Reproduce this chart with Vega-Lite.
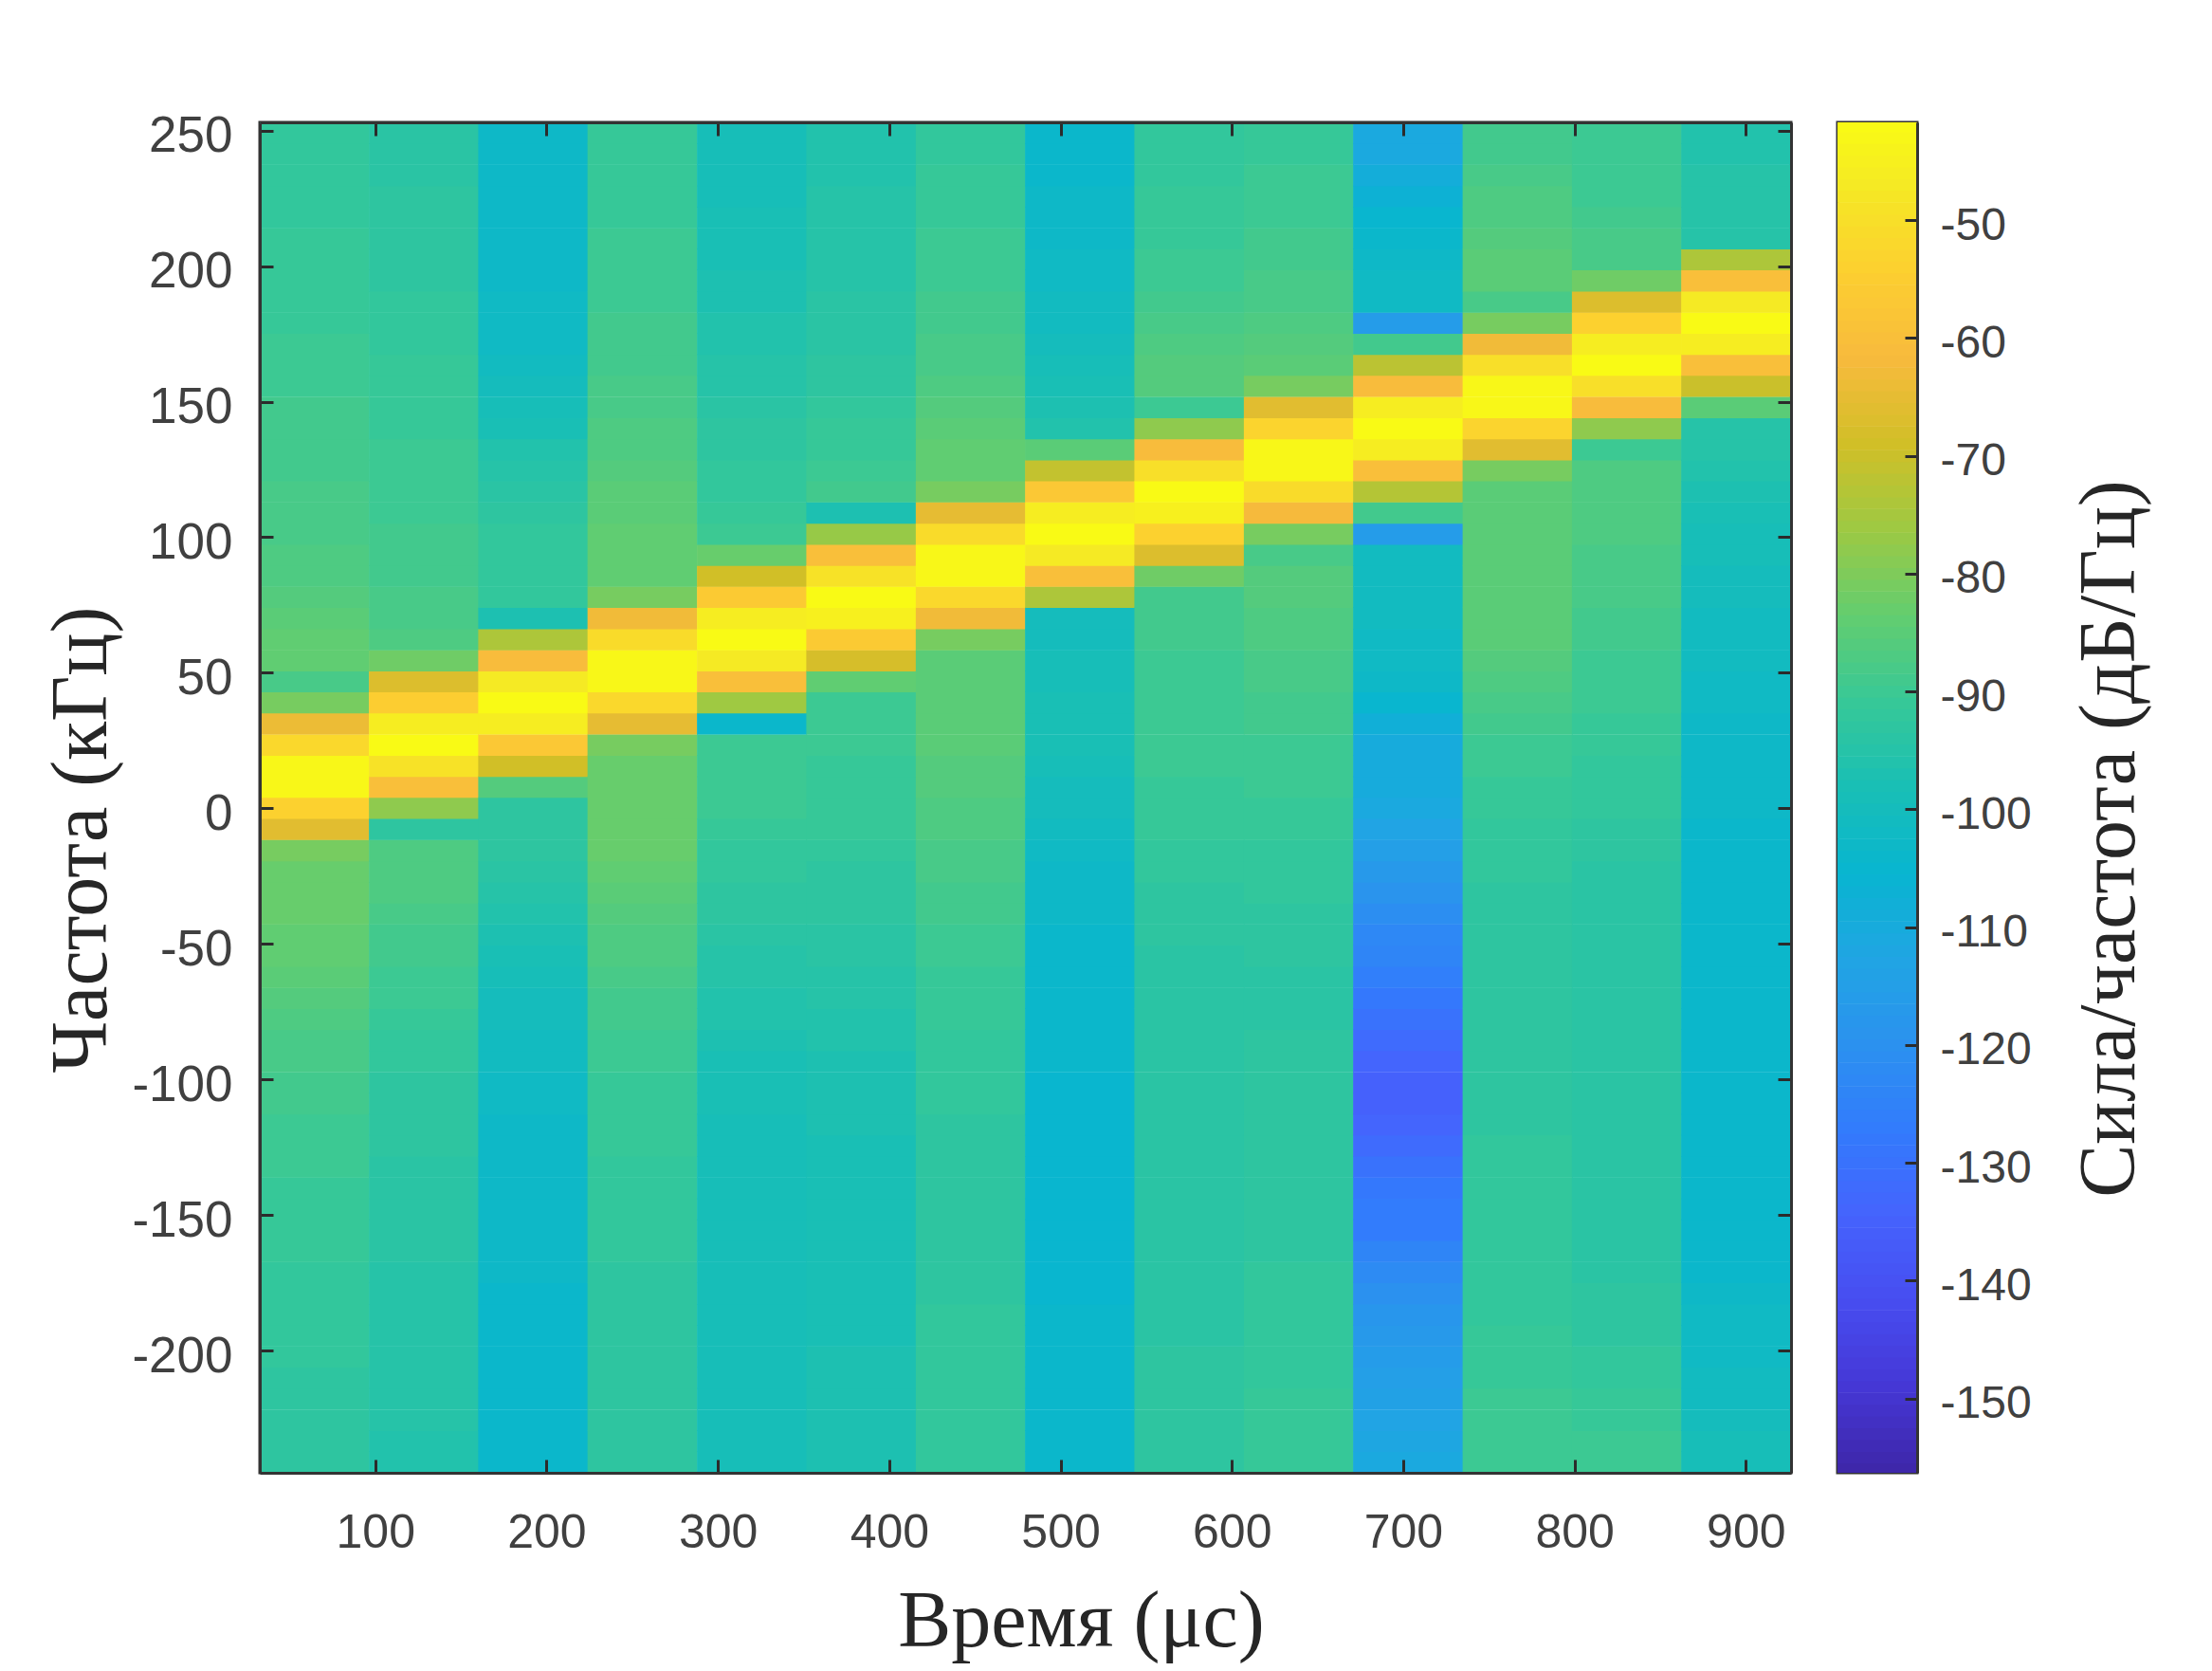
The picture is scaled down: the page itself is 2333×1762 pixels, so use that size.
{"$schema":"https://vega.github.io/schema/vega-lite/v6.json","background":"white","padding":{"left":42,"top":116,"right":5,"bottom":5},"config":{"view":{"stroke":"#333333","strokeWidth":3},"axis":{"labelFont":"Liberation Sans","labelColor":"#404040","titleFont":"Liberation Serif","titleColor":"#262626","titleFontWeight":"normal","titleFontSize":84,"tickColor":"#2b2b2b","tickWidth":3,"domainColor":"#333333","domainWidth":3,"grid":false,"labelExpr":"replace(datum.label,'−','-')"}},"spacing":44,"hconcat":[{"width":1615,"height":1424,"data":{"values":[
{"t":64.5,"f":-241.1,"v":-93},{"t":64.5,"f":-233.3,"v":-93},{"t":64.5,"f":-225.6,"v":-93},{"t":64.5,"f":-217.8,"v":-93},{"t":64.5,"f":-210,"v":-93},{"t":64.5,"f":-202.2,"v":-92},{"t":64.5,"f":-194.4,"v":-92},{"t":64.5,"f":-186.7,"v":-92},{"t":64.5,"f":-178.9,"v":-92},{"t":64.5,"f":-171.1,"v":-92},{"t":64.5,"f":-163.3,"v":-91},{"t":64.5,"f":-155.5,"v":-91},{"t":64.5,"f":-147.8,"v":-91},{"t":64.5,"f":-140,"v":-91},{"t":64.5,"f":-132.2,"v":-90},{"t":64.5,"f":-124.4,"v":-90},{"t":64.5,"f":-116.6,"v":-90},{"t":64.5,"f":-108.9,"v":-89},{"t":64.5,"f":-101.1,"v":-89},{"t":64.5,"f":-93.3,"v":-88},{"t":64.5,"f":-85.5,"v":-88},{"t":64.5,"f":-77.7,"v":-87},{"t":64.5,"f":-70,"v":-86},{"t":64.5,"f":-62.2,"v":-85},{"t":64.5,"f":-54.4,"v":-84},{"t":64.5,"f":-46.6,"v":-84},{"t":64.5,"f":-38.8,"v":-83},{"t":64.5,"f":-31.1,"v":-83},{"t":64.5,"f":-23.3,"v":-83},{"t":64.5,"f":-15.5,"v":-81},{"t":64.5,"f":-7.7,"v":-66},{"t":64.5,"f":0.1,"v":-54},{"t":64.5,"f":7.9,"v":-43},{"t":64.5,"f":15.6,"v":-43},{"t":64.5,"f":23.4,"v":-52},{"t":64.5,"f":31.2,"v":-64},{"t":64.5,"f":39,"v":-81},{"t":64.5,"f":46.8,"v":-88},{"t":64.5,"f":54.5,"v":-84},{"t":64.5,"f":62.3,"v":-84},{"t":64.5,"f":70.1,"v":-85},{"t":64.5,"f":77.9,"v":-86},{"t":64.5,"f":85.7,"v":-87},{"t":64.5,"f":93.4,"v":-87},{"t":64.5,"f":101.2,"v":-88},{"t":64.5,"f":109,"v":-88},{"t":64.5,"f":116.8,"v":-88},{"t":64.5,"f":124.6,"v":-89},{"t":64.5,"f":132.3,"v":-89},{"t":64.5,"f":140.1,"v":-89},{"t":64.5,"f":147.9,"v":-89},{"t":64.5,"f":155.7,"v":-90},{"t":64.5,"f":163.5,"v":-90},{"t":64.5,"f":171.2,"v":-90},{"t":64.5,"f":179,"v":-91},{"t":64.5,"f":186.8,"v":-91},{"t":64.5,"f":194.6,"v":-91},{"t":64.5,"f":202.4,"v":-91},{"t":64.5,"f":210.1,"v":-91},{"t":64.5,"f":217.9,"v":-92},{"t":64.5,"f":225.7,"v":-92},{"t":64.5,"f":233.5,"v":-92},{"t":64.5,"f":241.3,"v":-92},{"t":64.5,"f":249,"v":-92},
{"t":128.4,"f":-241.1,"v":-96},{"t":128.4,"f":-233.3,"v":-96},{"t":128.4,"f":-225.6,"v":-95},{"t":128.4,"f":-217.8,"v":-95},{"t":128.4,"f":-210,"v":-95},{"t":128.4,"f":-202.2,"v":-95},{"t":128.4,"f":-194.4,"v":-95},{"t":128.4,"f":-186.7,"v":-95},{"t":128.4,"f":-178.9,"v":-95},{"t":128.4,"f":-171.1,"v":-95},{"t":128.4,"f":-163.3,"v":-94},{"t":128.4,"f":-155.5,"v":-94},{"t":128.4,"f":-147.8,"v":-94},{"t":128.4,"f":-140,"v":-94},{"t":128.4,"f":-132.2,"v":-94},{"t":128.4,"f":-124.4,"v":-93},{"t":128.4,"f":-116.6,"v":-93},{"t":128.4,"f":-108.9,"v":-93},{"t":128.4,"f":-101.1,"v":-93},{"t":128.4,"f":-93.3,"v":-92},{"t":128.4,"f":-85.5,"v":-92},{"t":128.4,"f":-77.7,"v":-91},{"t":128.4,"f":-70,"v":-90},{"t":128.4,"f":-62.2,"v":-90},{"t":128.4,"f":-54.4,"v":-89},{"t":128.4,"f":-46.6,"v":-89},{"t":128.4,"f":-38.8,"v":-88},{"t":128.4,"f":-31.1,"v":-87},{"t":128.4,"f":-23.3,"v":-87},{"t":128.4,"f":-15.5,"v":-87},{"t":128.4,"f":-7.7,"v":-93},{"t":128.4,"f":0.1,"v":-78},{"t":128.4,"f":7.9,"v":-60},{"t":128.4,"f":15.6,"v":-49},{"t":128.4,"f":23.4,"v":-42},{"t":128.4,"f":31.2,"v":-46},{"t":128.4,"f":39,"v":-55},{"t":128.4,"f":46.8,"v":-67},{"t":128.4,"f":54.5,"v":-82},{"t":128.4,"f":62.3,"v":-87},{"t":128.4,"f":70.1,"v":-88},{"t":128.4,"f":77.9,"v":-88},{"t":128.4,"f":85.7,"v":-89},{"t":128.4,"f":93.4,"v":-89},{"t":128.4,"f":101.2,"v":-89},{"t":128.4,"f":109,"v":-90},{"t":128.4,"f":116.8,"v":-90},{"t":128.4,"f":124.6,"v":-90},{"t":128.4,"f":132.3,"v":-90},{"t":128.4,"f":140.1,"v":-91},{"t":128.4,"f":147.9,"v":-91},{"t":128.4,"f":155.7,"v":-91},{"t":128.4,"f":163.5,"v":-91},{"t":128.4,"f":171.2,"v":-92},{"t":128.4,"f":179,"v":-92},{"t":128.4,"f":186.8,"v":-92},{"t":128.4,"f":194.6,"v":-93},{"t":128.4,"f":202.4,"v":-93},{"t":128.4,"f":210.1,"v":-93},{"t":128.4,"f":217.9,"v":-93},{"t":128.4,"f":225.7,"v":-93},{"t":128.4,"f":233.5,"v":-94},{"t":128.4,"f":241.3,"v":-94},{"t":128.4,"f":249,"v":-94},
{"t":192.2,"f":-241.1,"v":-104},{"t":192.2,"f":-233.3,"v":-104},{"t":192.2,"f":-225.6,"v":-104},{"t":192.2,"f":-217.8,"v":-104},{"t":192.2,"f":-210,"v":-104},{"t":192.2,"f":-202.2,"v":-104},{"t":192.2,"f":-194.4,"v":-104},{"t":192.2,"f":-186.7,"v":-104},{"t":192.2,"f":-178.9,"v":-104},{"t":192.2,"f":-171.1,"v":-103},{"t":192.2,"f":-163.3,"v":-103},{"t":192.2,"f":-155.5,"v":-103},{"t":192.2,"f":-147.8,"v":-103},{"t":192.2,"f":-140,"v":-103},{"t":192.2,"f":-132.2,"v":-103},{"t":192.2,"f":-124.4,"v":-103},{"t":192.2,"f":-116.6,"v":-103},{"t":192.2,"f":-108.9,"v":-102},{"t":192.2,"f":-101.1,"v":-102},{"t":192.2,"f":-93.3,"v":-101},{"t":192.2,"f":-85.5,"v":-101},{"t":192.2,"f":-77.7,"v":-100},{"t":192.2,"f":-70,"v":-100},{"t":192.2,"f":-62.2,"v":-99},{"t":192.2,"f":-54.4,"v":-98},{"t":192.2,"f":-46.6,"v":-97},{"t":192.2,"f":-38.8,"v":-96},{"t":192.2,"f":-31.1,"v":-95},{"t":192.2,"f":-23.3,"v":-94},{"t":192.2,"f":-15.5,"v":-93},{"t":192.2,"f":-7.7,"v":-93},{"t":192.2,"f":0.1,"v":-93},{"t":192.2,"f":7.9,"v":-86},{"t":192.2,"f":15.6,"v":-69},{"t":192.2,"f":23.4,"v":-57},{"t":192.2,"f":31.2,"v":-46},{"t":192.2,"f":39,"v":-42},{"t":192.2,"f":46.8,"v":-47},{"t":192.2,"f":54.5,"v":-61},{"t":192.2,"f":62.3,"v":-74},{"t":192.2,"f":70.1,"v":-97},{"t":192.2,"f":77.9,"v":-92},{"t":192.2,"f":85.7,"v":-92},{"t":192.2,"f":93.4,"v":-92},{"t":192.2,"f":101.2,"v":-92},{"t":192.2,"f":109,"v":-93},{"t":192.2,"f":116.8,"v":-94},{"t":192.2,"f":124.6,"v":-95},{"t":192.2,"f":132.3,"v":-96},{"t":192.2,"f":140.1,"v":-98},{"t":192.2,"f":147.9,"v":-99},{"t":192.2,"f":155.7,"v":-100},{"t":192.2,"f":163.5,"v":-101},{"t":192.2,"f":171.2,"v":-102},{"t":192.2,"f":179,"v":-102},{"t":192.2,"f":186.8,"v":-102},{"t":192.2,"f":194.6,"v":-103},{"t":192.2,"f":202.4,"v":-103},{"t":192.2,"f":210.1,"v":-103},{"t":192.2,"f":217.9,"v":-103},{"t":192.2,"f":225.7,"v":-103},{"t":192.2,"f":233.5,"v":-103},{"t":192.2,"f":241.3,"v":-103},{"t":192.2,"f":249,"v":-103},
{"t":256,"f":-241.1,"v":-93},{"t":256,"f":-233.3,"v":-93},{"t":256,"f":-225.6,"v":-93},{"t":256,"f":-217.8,"v":-93},{"t":256,"f":-210,"v":-93},{"t":256,"f":-202.2,"v":-93},{"t":256,"f":-194.4,"v":-93},{"t":256,"f":-186.7,"v":-93},{"t":256,"f":-178.9,"v":-93},{"t":256,"f":-171.1,"v":-93},{"t":256,"f":-163.3,"v":-92},{"t":256,"f":-155.5,"v":-92},{"t":256,"f":-147.8,"v":-92},{"t":256,"f":-140,"v":-92},{"t":256,"f":-132.2,"v":-92},{"t":256,"f":-124.4,"v":-91},{"t":256,"f":-116.6,"v":-91},{"t":256,"f":-108.9,"v":-91},{"t":256,"f":-101.1,"v":-91},{"t":256,"f":-93.3,"v":-90},{"t":256,"f":-85.5,"v":-90},{"t":256,"f":-77.7,"v":-89},{"t":256,"f":-70,"v":-89},{"t":256,"f":-62.2,"v":-88},{"t":256,"f":-54.4,"v":-87},{"t":256,"f":-46.6,"v":-87},{"t":256,"f":-38.8,"v":-86},{"t":256,"f":-31.1,"v":-85},{"t":256,"f":-23.3,"v":-84},{"t":256,"f":-15.5,"v":-83},{"t":256,"f":-7.7,"v":-83},{"t":256,"f":0.1,"v":-83},{"t":256,"f":7.9,"v":-83},{"t":256,"f":15.6,"v":-83},{"t":256,"f":23.4,"v":-81},{"t":256,"f":31.2,"v":-65},{"t":256,"f":39,"v":-52},{"t":256,"f":46.8,"v":-43},{"t":256,"f":54.5,"v":-43},{"t":256,"f":62.3,"v":-51},{"t":256,"f":70.1,"v":-63},{"t":256,"f":77.9,"v":-81},{"t":256,"f":85.7,"v":-84},{"t":256,"f":93.4,"v":-84},{"t":256,"f":101.2,"v":-84},{"t":256,"f":109,"v":-85},{"t":256,"f":116.8,"v":-85},{"t":256,"f":124.6,"v":-86},{"t":256,"f":132.3,"v":-87},{"t":256,"f":140.1,"v":-87},{"t":256,"f":147.9,"v":-88},{"t":256,"f":155.7,"v":-88},{"t":256,"f":163.5,"v":-89},{"t":256,"f":171.2,"v":-89},{"t":256,"f":179,"v":-89},{"t":256,"f":186.8,"v":-90},{"t":256,"f":194.6,"v":-90},{"t":256,"f":202.4,"v":-90},{"t":256,"f":210.1,"v":-90},{"t":256,"f":217.9,"v":-91},{"t":256,"f":225.7,"v":-91},{"t":256,"f":233.5,"v":-91},{"t":256,"f":241.3,"v":-91},{"t":256,"f":249,"v":-91},
{"t":319.9,"f":-241.1,"v":-99},{"t":319.9,"f":-233.3,"v":-99},{"t":319.9,"f":-225.6,"v":-99},{"t":319.9,"f":-217.8,"v":-99},{"t":319.9,"f":-210,"v":-99},{"t":319.9,"f":-202.2,"v":-99},{"t":319.9,"f":-194.4,"v":-99},{"t":319.9,"f":-186.7,"v":-99},{"t":319.9,"f":-178.9,"v":-99},{"t":319.9,"f":-171.1,"v":-99},{"t":319.9,"f":-163.3,"v":-99},{"t":319.9,"f":-155.5,"v":-99},{"t":319.9,"f":-147.8,"v":-99},{"t":319.9,"f":-140,"v":-99},{"t":319.9,"f":-132.2,"v":-99},{"t":319.9,"f":-124.4,"v":-99},{"t":319.9,"f":-116.6,"v":-99},{"t":319.9,"f":-108.9,"v":-98},{"t":319.9,"f":-101.1,"v":-98},{"t":319.9,"f":-93.3,"v":-98},{"t":319.9,"f":-85.5,"v":-97},{"t":319.9,"f":-77.7,"v":-96},{"t":319.9,"f":-70,"v":-96},{"t":319.9,"f":-62.2,"v":-95},{"t":319.9,"f":-54.4,"v":-95},{"t":319.9,"f":-46.6,"v":-94},{"t":319.9,"f":-38.8,"v":-93},{"t":319.9,"f":-31.1,"v":-93},{"t":319.9,"f":-23.3,"v":-92},{"t":319.9,"f":-15.5,"v":-92},{"t":319.9,"f":-7.7,"v":-91},{"t":319.9,"f":0.1,"v":-90},{"t":319.9,"f":7.9,"v":-90},{"t":319.9,"f":15.6,"v":-90},{"t":319.9,"f":23.4,"v":-90},{"t":319.9,"f":31.2,"v":-104},{"t":319.9,"f":39,"v":-76},{"t":319.9,"f":46.8,"v":-60},{"t":319.9,"f":54.5,"v":-47},{"t":319.9,"f":62.3,"v":-42},{"t":319.9,"f":70.1,"v":-46},{"t":319.9,"f":77.9,"v":-56},{"t":319.9,"f":85.7,"v":-69},{"t":319.9,"f":93.4,"v":-83},{"t":319.9,"f":101.2,"v":-90},{"t":319.9,"f":109,"v":-91},{"t":319.9,"f":116.8,"v":-92},{"t":319.9,"f":124.6,"v":-92},{"t":319.9,"f":132.3,"v":-93},{"t":319.9,"f":140.1,"v":-93},{"t":319.9,"f":147.9,"v":-94},{"t":319.9,"f":155.7,"v":-95},{"t":319.9,"f":163.5,"v":-95},{"t":319.9,"f":171.2,"v":-96},{"t":319.9,"f":179,"v":-96},{"t":319.9,"f":186.8,"v":-97},{"t":319.9,"f":194.6,"v":-97},{"t":319.9,"f":202.4,"v":-98},{"t":319.9,"f":210.1,"v":-98},{"t":319.9,"f":217.9,"v":-98},{"t":319.9,"f":225.7,"v":-99},{"t":319.9,"f":233.5,"v":-99},{"t":319.9,"f":241.3,"v":-99},{"t":319.9,"f":249,"v":-99},
{"t":383.7,"f":-241.1,"v":-97},{"t":383.7,"f":-233.3,"v":-97},{"t":383.7,"f":-225.6,"v":-97},{"t":383.7,"f":-217.8,"v":-97},{"t":383.7,"f":-210,"v":-97},{"t":383.7,"f":-202.2,"v":-97},{"t":383.7,"f":-194.4,"v":-98},{"t":383.7,"f":-186.7,"v":-98},{"t":383.7,"f":-178.9,"v":-98},{"t":383.7,"f":-171.1,"v":-98},{"t":383.7,"f":-163.3,"v":-98},{"t":383.7,"f":-155.5,"v":-98},{"t":383.7,"f":-147.8,"v":-98},{"t":383.7,"f":-140,"v":-98},{"t":383.7,"f":-132.2,"v":-98},{"t":383.7,"f":-124.4,"v":-98},{"t":383.7,"f":-116.6,"v":-97},{"t":383.7,"f":-108.9,"v":-97},{"t":383.7,"f":-101.1,"v":-97},{"t":383.7,"f":-93.3,"v":-97},{"t":383.7,"f":-85.5,"v":-96},{"t":383.7,"f":-77.7,"v":-96},{"t":383.7,"f":-70,"v":-95},{"t":383.7,"f":-62.2,"v":-95},{"t":383.7,"f":-54.4,"v":-94},{"t":383.7,"f":-46.6,"v":-94},{"t":383.7,"f":-38.8,"v":-93},{"t":383.7,"f":-31.1,"v":-93},{"t":383.7,"f":-23.3,"v":-93},{"t":383.7,"f":-15.5,"v":-92},{"t":383.7,"f":-7.7,"v":-91},{"t":383.7,"f":0.1,"v":-91},{"t":383.7,"f":7.9,"v":-91},{"t":383.7,"f":15.6,"v":-91},{"t":383.7,"f":23.4,"v":-90},{"t":383.7,"f":31.2,"v":-90},{"t":383.7,"f":39,"v":-90},{"t":383.7,"f":46.8,"v":-84},{"t":383.7,"f":54.5,"v":-68},{"t":383.7,"f":62.3,"v":-56},{"t":383.7,"f":70.1,"v":-45},{"t":383.7,"f":77.9,"v":-42},{"t":383.7,"f":85.7,"v":-49},{"t":383.7,"f":93.4,"v":-60},{"t":383.7,"f":101.2,"v":-77},{"t":383.7,"f":109,"v":-97},{"t":383.7,"f":116.8,"v":-89},{"t":383.7,"f":124.6,"v":-90},{"t":383.7,"f":132.3,"v":-91},{"t":383.7,"f":140.1,"v":-91},{"t":383.7,"f":147.9,"v":-92},{"t":383.7,"f":155.7,"v":-93},{"t":383.7,"f":163.5,"v":-93},{"t":383.7,"f":171.2,"v":-94},{"t":383.7,"f":179,"v":-94},{"t":383.7,"f":186.8,"v":-94},{"t":383.7,"f":194.6,"v":-95},{"t":383.7,"f":202.4,"v":-95},{"t":383.7,"f":210.1,"v":-95},{"t":383.7,"f":217.9,"v":-95},{"t":383.7,"f":225.7,"v":-95},{"t":383.7,"f":233.5,"v":-96},{"t":383.7,"f":241.3,"v":-96},{"t":383.7,"f":249,"v":-96},
{"t":447.6,"f":-241.1,"v":-92},{"t":447.6,"f":-233.3,"v":-92},{"t":447.6,"f":-225.6,"v":-92},{"t":447.6,"f":-217.8,"v":-92},{"t":447.6,"f":-210,"v":-92},{"t":447.6,"f":-202.2,"v":-92},{"t":447.6,"f":-194.4,"v":-92},{"t":447.6,"f":-186.7,"v":-92},{"t":447.6,"f":-178.9,"v":-93},{"t":447.6,"f":-171.1,"v":-93},{"t":447.6,"f":-163.3,"v":-93},{"t":447.6,"f":-155.5,"v":-93},{"t":447.6,"f":-147.8,"v":-93},{"t":447.6,"f":-140,"v":-93},{"t":447.6,"f":-132.2,"v":-93},{"t":447.6,"f":-124.4,"v":-93},{"t":447.6,"f":-116.6,"v":-93},{"t":447.6,"f":-108.9,"v":-92},{"t":447.6,"f":-101.1,"v":-92},{"t":447.6,"f":-93.3,"v":-92},{"t":447.6,"f":-85.5,"v":-92},{"t":447.6,"f":-77.7,"v":-91},{"t":447.6,"f":-70,"v":-91},{"t":447.6,"f":-62.2,"v":-91},{"t":447.6,"f":-54.4,"v":-90},{"t":447.6,"f":-46.6,"v":-90},{"t":447.6,"f":-38.8,"v":-89},{"t":447.6,"f":-31.1,"v":-89},{"t":447.6,"f":-23.3,"v":-88},{"t":447.6,"f":-15.5,"v":-88},{"t":447.6,"f":-7.7,"v":-87},{"t":447.6,"f":0.1,"v":-87},{"t":447.6,"f":7.9,"v":-86},{"t":447.6,"f":15.6,"v":-86},{"t":447.6,"f":23.4,"v":-85},{"t":447.6,"f":31.2,"v":-85},{"t":447.6,"f":39,"v":-85},{"t":447.6,"f":46.8,"v":-85},{"t":447.6,"f":54.5,"v":-85},{"t":447.6,"f":62.3,"v":-81},{"t":447.6,"f":70.1,"v":-63},{"t":447.6,"f":77.9,"v":-52},{"t":447.6,"f":85.7,"v":-43},{"t":447.6,"f":93.4,"v":-43},{"t":447.6,"f":101.2,"v":-51},{"t":447.6,"f":109,"v":-65},{"t":447.6,"f":116.8,"v":-81},{"t":447.6,"f":124.6,"v":-84},{"t":447.6,"f":132.3,"v":-84},{"t":447.6,"f":140.1,"v":-85},{"t":447.6,"f":147.9,"v":-86},{"t":447.6,"f":155.7,"v":-87},{"t":447.6,"f":163.5,"v":-88},{"t":447.6,"f":171.2,"v":-88},{"t":447.6,"f":179,"v":-89},{"t":447.6,"f":186.8,"v":-89},{"t":447.6,"f":194.6,"v":-90},{"t":447.6,"f":202.4,"v":-90},{"t":447.6,"f":210.1,"v":-90},{"t":447.6,"f":217.9,"v":-91},{"t":447.6,"f":225.7,"v":-91},{"t":447.6,"f":233.5,"v":-91},{"t":447.6,"f":241.3,"v":-92},{"t":447.6,"f":249,"v":-92},
{"t":511.4,"f":-241.1,"v":-104},{"t":511.4,"f":-233.3,"v":-104},{"t":511.4,"f":-225.6,"v":-104},{"t":511.4,"f":-217.8,"v":-104},{"t":511.4,"f":-210,"v":-104},{"t":511.4,"f":-202.2,"v":-104},{"t":511.4,"f":-194.4,"v":-104},{"t":511.4,"f":-186.7,"v":-104},{"t":511.4,"f":-178.9,"v":-105},{"t":511.4,"f":-171.1,"v":-105},{"t":511.4,"f":-163.3,"v":-105},{"t":511.4,"f":-155.5,"v":-105},{"t":511.4,"f":-147.8,"v":-105},{"t":511.4,"f":-140,"v":-105},{"t":511.4,"f":-132.2,"v":-105},{"t":511.4,"f":-124.4,"v":-105},{"t":511.4,"f":-116.6,"v":-105},{"t":511.4,"f":-108.9,"v":-105},{"t":511.4,"f":-101.1,"v":-105},{"t":511.4,"f":-93.3,"v":-104},{"t":511.4,"f":-85.5,"v":-104},{"t":511.4,"f":-77.7,"v":-104},{"t":511.4,"f":-70,"v":-104},{"t":511.4,"f":-62.2,"v":-104},{"t":511.4,"f":-54.4,"v":-104},{"t":511.4,"f":-46.6,"v":-104},{"t":511.4,"f":-38.8,"v":-103},{"t":511.4,"f":-31.1,"v":-103},{"t":511.4,"f":-23.3,"v":-103},{"t":511.4,"f":-15.5,"v":-102},{"t":511.4,"f":-7.7,"v":-101},{"t":511.4,"f":0.1,"v":-100},{"t":511.4,"f":7.9,"v":-100},{"t":511.4,"f":15.6,"v":-99},{"t":511.4,"f":23.4,"v":-98},{"t":511.4,"f":31.2,"v":-98},{"t":511.4,"f":39,"v":-98},{"t":511.4,"f":46.8,"v":-99},{"t":511.4,"f":54.5,"v":-99},{"t":511.4,"f":62.3,"v":-100},{"t":511.4,"f":70.1,"v":-100},{"t":511.4,"f":77.9,"v":-74},{"t":511.4,"f":85.7,"v":-60},{"t":511.4,"f":93.4,"v":-47},{"t":511.4,"f":101.2,"v":-42},{"t":511.4,"f":109,"v":-46},{"t":511.4,"f":116.8,"v":-57},{"t":511.4,"f":124.6,"v":-71},{"t":511.4,"f":132.3,"v":-85},{"t":511.4,"f":140.1,"v":-96},{"t":511.4,"f":147.9,"v":-97},{"t":511.4,"f":155.7,"v":-98},{"t":511.4,"f":163.5,"v":-99},{"t":511.4,"f":171.2,"v":-100},{"t":511.4,"f":179,"v":-101},{"t":511.4,"f":186.8,"v":-101},{"t":511.4,"f":194.6,"v":-102},{"t":511.4,"f":202.4,"v":-102},{"t":511.4,"f":210.1,"v":-103},{"t":511.4,"f":217.9,"v":-103},{"t":511.4,"f":225.7,"v":-103},{"t":511.4,"f":233.5,"v":-104},{"t":511.4,"f":241.3,"v":-104},{"t":511.4,"f":249,"v":-104},
{"t":575.2,"f":-241.1,"v":-93},{"t":575.2,"f":-233.3,"v":-93},{"t":575.2,"f":-225.6,"v":-93},{"t":575.2,"f":-217.8,"v":-93},{"t":575.2,"f":-210,"v":-93},{"t":575.2,"f":-202.2,"v":-93},{"t":575.2,"f":-194.4,"v":-94},{"t":575.2,"f":-186.7,"v":-94},{"t":575.2,"f":-178.9,"v":-94},{"t":575.2,"f":-171.1,"v":-94},{"t":575.2,"f":-163.3,"v":-94},{"t":575.2,"f":-155.5,"v":-94},{"t":575.2,"f":-147.8,"v":-94},{"t":575.2,"f":-140,"v":-94},{"t":575.2,"f":-132.2,"v":-94},{"t":575.2,"f":-124.4,"v":-94},{"t":575.2,"f":-116.6,"v":-94},{"t":575.2,"f":-108.9,"v":-94},{"t":575.2,"f":-101.1,"v":-94},{"t":575.2,"f":-93.3,"v":-94},{"t":575.2,"f":-85.5,"v":-94},{"t":575.2,"f":-77.7,"v":-94},{"t":575.2,"f":-70,"v":-94},{"t":575.2,"f":-62.2,"v":-94},{"t":575.2,"f":-54.4,"v":-94},{"t":575.2,"f":-46.6,"v":-93},{"t":575.2,"f":-38.8,"v":-93},{"t":575.2,"f":-31.1,"v":-93},{"t":575.2,"f":-23.3,"v":-92},{"t":575.2,"f":-15.5,"v":-92},{"t":575.2,"f":-7.7,"v":-91},{"t":575.2,"f":0.1,"v":-91},{"t":575.2,"f":7.9,"v":-91},{"t":575.2,"f":15.6,"v":-90},{"t":575.2,"f":23.4,"v":-90},{"t":575.2,"f":31.2,"v":-90},{"t":575.2,"f":39,"v":-90},{"t":575.2,"f":46.8,"v":-90},{"t":575.2,"f":54.5,"v":-90},{"t":575.2,"f":62.3,"v":-89},{"t":575.2,"f":70.1,"v":-89},{"t":575.2,"f":77.9,"v":-89},{"t":575.2,"f":85.7,"v":-82},{"t":575.2,"f":93.4,"v":-67},{"t":575.2,"f":101.2,"v":-54},{"t":575.2,"f":109,"v":-45},{"t":575.2,"f":116.8,"v":-42},{"t":575.2,"f":124.6,"v":-50},{"t":575.2,"f":132.3,"v":-61},{"t":575.2,"f":140.1,"v":-78},{"t":575.2,"f":147.9,"v":-90},{"t":575.2,"f":155.7,"v":-86},{"t":575.2,"f":163.5,"v":-86},{"t":575.2,"f":171.2,"v":-87},{"t":575.2,"f":179,"v":-88},{"t":575.2,"f":186.8,"v":-89},{"t":575.2,"f":194.6,"v":-90},{"t":575.2,"f":202.4,"v":-90},{"t":575.2,"f":210.1,"v":-91},{"t":575.2,"f":217.9,"v":-91},{"t":575.2,"f":225.7,"v":-91},{"t":575.2,"f":233.5,"v":-92},{"t":575.2,"f":241.3,"v":-92},{"t":575.2,"f":249,"v":-92},
{"t":639.1,"f":-241.1,"v":-91},{"t":639.1,"f":-233.3,"v":-91},{"t":639.1,"f":-225.6,"v":-91},{"t":639.1,"f":-217.8,"v":-91},{"t":639.1,"f":-210,"v":-92},{"t":639.1,"f":-202.2,"v":-92},{"t":639.1,"f":-194.4,"v":-92},{"t":639.1,"f":-186.7,"v":-92},{"t":639.1,"f":-178.9,"v":-92},{"t":639.1,"f":-171.1,"v":-92},{"t":639.1,"f":-163.3,"v":-93},{"t":639.1,"f":-155.5,"v":-93},{"t":639.1,"f":-147.8,"v":-93},{"t":639.1,"f":-140,"v":-93},{"t":639.1,"f":-132.2,"v":-93},{"t":639.1,"f":-124.4,"v":-93},{"t":639.1,"f":-116.6,"v":-93},{"t":639.1,"f":-108.9,"v":-93},{"t":639.1,"f":-101.1,"v":-93},{"t":639.1,"f":-93.3,"v":-93},{"t":639.1,"f":-85.5,"v":-93},{"t":639.1,"f":-77.7,"v":-94},{"t":639.1,"f":-70,"v":-94},{"t":639.1,"f":-62.2,"v":-94},{"t":639.1,"f":-54.4,"v":-93},{"t":639.1,"f":-46.6,"v":-93},{"t":639.1,"f":-38.8,"v":-93},{"t":639.1,"f":-31.1,"v":-92},{"t":639.1,"f":-23.3,"v":-92},{"t":639.1,"f":-15.5,"v":-92},{"t":639.1,"f":-7.7,"v":-91},{"t":639.1,"f":0.1,"v":-91},{"t":639.1,"f":7.9,"v":-90},{"t":639.1,"f":15.6,"v":-90},{"t":639.1,"f":23.4,"v":-90},{"t":639.1,"f":31.2,"v":-89},{"t":639.1,"f":39,"v":-89},{"t":639.1,"f":46.8,"v":-88},{"t":639.1,"f":54.5,"v":-88},{"t":639.1,"f":62.3,"v":-87},{"t":639.1,"f":70.1,"v":-87},{"t":639.1,"f":77.9,"v":-86},{"t":639.1,"f":85.7,"v":-86},{"t":639.1,"f":93.4,"v":-88},{"t":639.1,"f":101.2,"v":-81},{"t":639.1,"f":109,"v":-62},{"t":639.1,"f":116.8,"v":-51},{"t":639.1,"f":124.6,"v":-43},{"t":639.1,"f":132.3,"v":-43},{"t":639.1,"f":140.1,"v":-53},{"t":639.1,"f":147.9,"v":-66},{"t":639.1,"f":155.7,"v":-81},{"t":639.1,"f":163.5,"v":-85},{"t":639.1,"f":171.2,"v":-86},{"t":639.1,"f":179,"v":-87},{"t":639.1,"f":186.8,"v":-88},{"t":639.1,"f":194.6,"v":-88},{"t":639.1,"f":202.4,"v":-89},{"t":639.1,"f":210.1,"v":-89},{"t":639.1,"f":217.9,"v":-90},{"t":639.1,"f":225.7,"v":-90},{"t":639.1,"f":233.5,"v":-90},{"t":639.1,"f":241.3,"v":-91},{"t":639.1,"f":249,"v":-91},
{"t":702.9,"f":-241.1,"v":-111},{"t":702.9,"f":-233.3,"v":-112},{"t":702.9,"f":-225.6,"v":-113},{"t":702.9,"f":-217.8,"v":-114},{"t":702.9,"f":-210,"v":-115},{"t":702.9,"f":-202.2,"v":-116},{"t":702.9,"f":-194.4,"v":-117},{"t":702.9,"f":-186.7,"v":-118},{"t":702.9,"f":-178.9,"v":-120},{"t":702.9,"f":-171.1,"v":-122},{"t":702.9,"f":-163.3,"v":-124},{"t":702.9,"f":-155.5,"v":-127},{"t":702.9,"f":-147.8,"v":-127},{"t":702.9,"f":-140,"v":-128},{"t":702.9,"f":-132.2,"v":-130},{"t":702.9,"f":-124.4,"v":-132},{"t":702.9,"f":-116.6,"v":-134},{"t":702.9,"f":-108.9,"v":-135},{"t":702.9,"f":-101.1,"v":-135},{"t":702.9,"f":-93.3,"v":-134},{"t":702.9,"f":-85.5,"v":-132},{"t":702.9,"f":-77.7,"v":-130},{"t":702.9,"f":-70,"v":-128},{"t":702.9,"f":-62.2,"v":-126},{"t":702.9,"f":-54.4,"v":-124},{"t":702.9,"f":-46.6,"v":-123},{"t":702.9,"f":-38.8,"v":-121},{"t":702.9,"f":-31.1,"v":-119},{"t":702.9,"f":-23.3,"v":-117},{"t":702.9,"f":-15.5,"v":-115},{"t":702.9,"f":-7.7,"v":-113},{"t":702.9,"f":0.1,"v":-111},{"t":702.9,"f":7.9,"v":-110},{"t":702.9,"f":15.6,"v":-110},{"t":702.9,"f":23.4,"v":-110},{"t":702.9,"f":31.2,"v":-108},{"t":702.9,"f":39,"v":-105},{"t":702.9,"f":46.8,"v":-103},{"t":702.9,"f":54.5,"v":-102},{"t":702.9,"f":62.3,"v":-102},{"t":702.9,"f":70.1,"v":-101},{"t":702.9,"f":77.9,"v":-101},{"t":702.9,"f":85.7,"v":-101},{"t":702.9,"f":93.4,"v":-101},{"t":702.9,"f":101.2,"v":-116},{"t":702.9,"f":109,"v":-89},{"t":702.9,"f":116.8,"v":-73},{"t":702.9,"f":124.6,"v":-60},{"t":702.9,"f":132.3,"v":-46},{"t":702.9,"f":140.1,"v":-42},{"t":702.9,"f":147.9,"v":-46},{"t":702.9,"f":155.7,"v":-61},{"t":702.9,"f":163.5,"v":-72},{"t":702.9,"f":171.2,"v":-89},{"t":702.9,"f":179,"v":-116},{"t":702.9,"f":186.8,"v":-102},{"t":702.9,"f":194.6,"v":-102},{"t":702.9,"f":202.4,"v":-103},{"t":702.9,"f":210.1,"v":-104},{"t":702.9,"f":217.9,"v":-105},{"t":702.9,"f":225.7,"v":-107},{"t":702.9,"f":233.5,"v":-109},{"t":702.9,"f":241.3,"v":-111},{"t":702.9,"f":249,"v":-111},
{"t":766.8,"f":-241.1,"v":-90},{"t":766.8,"f":-233.3,"v":-90},{"t":766.8,"f":-225.6,"v":-90},{"t":766.8,"f":-217.8,"v":-90},{"t":766.8,"f":-210,"v":-91},{"t":766.8,"f":-202.2,"v":-91},{"t":766.8,"f":-194.4,"v":-91},{"t":766.8,"f":-186.7,"v":-92},{"t":766.8,"f":-178.9,"v":-92},{"t":766.8,"f":-171.1,"v":-92},{"t":766.8,"f":-163.3,"v":-92},{"t":766.8,"f":-155.5,"v":-92},{"t":766.8,"f":-147.8,"v":-92},{"t":766.8,"f":-140,"v":-92},{"t":766.8,"f":-132.2,"v":-92},{"t":766.8,"f":-124.4,"v":-92},{"t":766.8,"f":-116.6,"v":-93},{"t":766.8,"f":-108.9,"v":-93},{"t":766.8,"f":-101.1,"v":-93},{"t":766.8,"f":-93.3,"v":-93},{"t":766.8,"f":-85.5,"v":-93},{"t":766.8,"f":-77.7,"v":-93},{"t":766.8,"f":-70,"v":-93},{"t":766.8,"f":-62.2,"v":-93},{"t":766.8,"f":-54.4,"v":-93},{"t":766.8,"f":-46.6,"v":-93},{"t":766.8,"f":-38.8,"v":-93},{"t":766.8,"f":-31.1,"v":-93},{"t":766.8,"f":-23.3,"v":-92},{"t":766.8,"f":-15.5,"v":-92},{"t":766.8,"f":-7.7,"v":-92},{"t":766.8,"f":0.1,"v":-91},{"t":766.8,"f":7.9,"v":-91},{"t":766.8,"f":15.6,"v":-90},{"t":766.8,"f":23.4,"v":-90},{"t":766.8,"f":31.2,"v":-89},{"t":766.8,"f":39,"v":-88},{"t":766.8,"f":46.8,"v":-87},{"t":766.8,"f":54.5,"v":-86},{"t":766.8,"f":62.3,"v":-85},{"t":766.8,"f":70.1,"v":-85},{"t":766.8,"f":77.9,"v":-85},{"t":766.8,"f":85.7,"v":-85},{"t":766.8,"f":93.4,"v":-85},{"t":766.8,"f":101.2,"v":-85},{"t":766.8,"f":109,"v":-85},{"t":766.8,"f":116.8,"v":-85},{"t":766.8,"f":124.6,"v":-81},{"t":766.8,"f":132.3,"v":-66},{"t":766.8,"f":140.1,"v":-53},{"t":766.8,"f":147.9,"v":-43},{"t":766.8,"f":155.7,"v":-43},{"t":766.8,"f":163.5,"v":-50},{"t":766.8,"f":171.2,"v":-63},{"t":766.8,"f":179,"v":-81},{"t":766.8,"f":186.8,"v":-88},{"t":766.8,"f":194.6,"v":-85},{"t":766.8,"f":202.4,"v":-85},{"t":766.8,"f":210.1,"v":-86},{"t":766.8,"f":217.9,"v":-87},{"t":766.8,"f":225.7,"v":-87},{"t":766.8,"f":233.5,"v":-88},{"t":766.8,"f":241.3,"v":-89},{"t":766.8,"f":249,"v":-89},
{"t":830.6,"f":-241.1,"v":-90},{"t":830.6,"f":-233.3,"v":-90},{"t":830.6,"f":-225.6,"v":-91},{"t":830.6,"f":-217.8,"v":-91},{"t":830.6,"f":-210,"v":-92},{"t":830.6,"f":-202.2,"v":-92},{"t":830.6,"f":-194.4,"v":-93},{"t":830.6,"f":-186.7,"v":-93},{"t":830.6,"f":-178.9,"v":-93},{"t":830.6,"f":-171.1,"v":-94},{"t":830.6,"f":-163.3,"v":-94},{"t":830.6,"f":-155.5,"v":-94},{"t":830.6,"f":-147.8,"v":-94},{"t":830.6,"f":-140,"v":-94},{"t":830.6,"f":-132.2,"v":-94},{"t":830.6,"f":-124.4,"v":-94},{"t":830.6,"f":-116.6,"v":-94},{"t":830.6,"f":-108.9,"v":-94},{"t":830.6,"f":-101.1,"v":-94},{"t":830.6,"f":-93.3,"v":-94},{"t":830.6,"f":-85.5,"v":-94},{"t":830.6,"f":-77.7,"v":-94},{"t":830.6,"f":-70,"v":-94},{"t":830.6,"f":-62.2,"v":-94},{"t":830.6,"f":-54.4,"v":-94},{"t":830.6,"f":-46.6,"v":-94},{"t":830.6,"f":-38.8,"v":-94},{"t":830.6,"f":-31.1,"v":-94},{"t":830.6,"f":-23.3,"v":-94},{"t":830.6,"f":-15.5,"v":-93},{"t":830.6,"f":-7.7,"v":-93},{"t":830.6,"f":0.1,"v":-92},{"t":830.6,"f":7.9,"v":-92},{"t":830.6,"f":15.6,"v":-92},{"t":830.6,"f":23.4,"v":-91},{"t":830.6,"f":31.2,"v":-91},{"t":830.6,"f":39,"v":-90},{"t":830.6,"f":46.8,"v":-90},{"t":830.6,"f":54.5,"v":-90},{"t":830.6,"f":62.3,"v":-89},{"t":830.6,"f":70.1,"v":-89},{"t":830.6,"f":77.9,"v":-88},{"t":830.6,"f":85.7,"v":-88},{"t":830.6,"f":93.4,"v":-88},{"t":830.6,"f":101.2,"v":-87},{"t":830.6,"f":109,"v":-87},{"t":830.6,"f":116.8,"v":-87},{"t":830.6,"f":124.6,"v":-87},{"t":830.6,"f":132.3,"v":-90},{"t":830.6,"f":140.1,"v":-78},{"t":830.6,"f":147.9,"v":-61},{"t":830.6,"f":155.7,"v":-50},{"t":830.6,"f":163.5,"v":-42},{"t":830.6,"f":171.2,"v":-46},{"t":830.6,"f":179,"v":-54},{"t":830.6,"f":186.8,"v":-67},{"t":830.6,"f":194.6,"v":-82},{"t":830.6,"f":202.4,"v":-88},{"t":830.6,"f":210.1,"v":-88},{"t":830.6,"f":217.9,"v":-89},{"t":830.6,"f":225.7,"v":-90},{"t":830.6,"f":233.5,"v":-90},{"t":830.6,"f":241.3,"v":-90},{"t":830.6,"f":249,"v":-90},
{"t":894.4,"f":-241.1,"v":-99},{"t":894.4,"f":-233.3,"v":-99},{"t":894.4,"f":-225.6,"v":-100},{"t":894.4,"f":-217.8,"v":-101},{"t":894.4,"f":-210,"v":-101},{"t":894.4,"f":-202.2,"v":-102},{"t":894.4,"f":-194.4,"v":-102},{"t":894.4,"f":-186.7,"v":-102},{"t":894.4,"f":-178.9,"v":-103},{"t":894.4,"f":-171.1,"v":-104},{"t":894.4,"f":-163.3,"v":-104},{"t":894.4,"f":-155.5,"v":-104},{"t":894.4,"f":-147.8,"v":-104},{"t":894.4,"f":-140,"v":-104},{"t":894.4,"f":-132.2,"v":-104},{"t":894.4,"f":-124.4,"v":-104},{"t":894.4,"f":-116.6,"v":-104},{"t":894.4,"f":-108.9,"v":-104},{"t":894.4,"f":-101.1,"v":-104},{"t":894.4,"f":-93.3,"v":-104},{"t":894.4,"f":-85.5,"v":-104},{"t":894.4,"f":-77.7,"v":-104},{"t":894.4,"f":-70,"v":-104},{"t":894.4,"f":-62.2,"v":-104},{"t":894.4,"f":-54.4,"v":-104},{"t":894.4,"f":-46.6,"v":-104},{"t":894.4,"f":-38.8,"v":-104},{"t":894.4,"f":-31.1,"v":-104},{"t":894.4,"f":-23.3,"v":-104},{"t":894.4,"f":-15.5,"v":-104},{"t":894.4,"f":-7.7,"v":-104},{"t":894.4,"f":0.1,"v":-103},{"t":894.4,"f":7.9,"v":-103},{"t":894.4,"f":15.6,"v":-103},{"t":894.4,"f":23.4,"v":-103},{"t":894.4,"f":31.2,"v":-103},{"t":894.4,"f":39,"v":-102},{"t":894.4,"f":46.8,"v":-102},{"t":894.4,"f":54.5,"v":-101},{"t":894.4,"f":62.3,"v":-101},{"t":894.4,"f":70.1,"v":-101},{"t":894.4,"f":77.9,"v":-100},{"t":894.4,"f":85.7,"v":-100},{"t":894.4,"f":93.4,"v":-99},{"t":894.4,"f":101.2,"v":-99},{"t":894.4,"f":109,"v":-98},{"t":894.4,"f":116.8,"v":-97},{"t":894.4,"f":124.6,"v":-96},{"t":894.4,"f":132.3,"v":-95},{"t":894.4,"f":140.1,"v":-95},{"t":894.4,"f":147.9,"v":-85},{"t":894.4,"f":155.7,"v":-70},{"t":894.4,"f":163.5,"v":-60},{"t":894.4,"f":171.2,"v":-46},{"t":894.4,"f":179,"v":-42},{"t":894.4,"f":186.8,"v":-47},{"t":894.4,"f":194.6,"v":-60},{"t":894.4,"f":202.4,"v":-74},{"t":894.4,"f":210.1,"v":-95},{"t":894.4,"f":217.9,"v":-95},{"t":894.4,"f":225.7,"v":-95},{"t":894.4,"f":233.5,"v":-95},{"t":894.4,"f":241.3,"v":-96},{"t":894.4,"f":249,"v":-96}
]},"layer":[{"mark":{"type":"rect","width":116,"height":22.8,"clip":true},"encoding":{"x":{"field":"t","type":"quantitative","scale":{"domain":[32.6,926.4],"nice":false,"zero":false},"axis":{"zindex":1,"title":"Время (μс)","titleX":866,"titleY":182,"titleBaseline":"alphabetic","values":[100,200,300,400,500,600,700,800,900],"labelFontSize":50,"tickSize":-14,"labelPadding":52}},"y":{"field":"f","type":"quantitative","scale":{"domain":[-245,253],"nice":false,"zero":false},"axis":{"zindex":1,"title":"Частота (кГц)","titleX":-145,"titleY":756,"values":[-200,-150,-100,-50,0,50,100,150,200,250],"labelFontSize":53,"tickSize":-14,"labelPadding":43,"labelOffset":6}},"color":{"field":"v","type":"quantitative","legend":null,"scale":{"interpolate":"rgb","domain":[-156.3,-149.02,-141.75,-134.47,-127.2,-119.92,-112.64,-105.37,-98.09,-90.81,-83.54,-76.26,-68.99,-61.71,-54.43,-47.16,-41.7],"range":["#3e26a8","#4537d5","#474df0","#4563fd","#327bfc","#2b91ef","#20a5e3","#08b5d0","#19bfb5","#37c897","#63cd6f","#9dc943","#d1bf27","#f8ba3d","#fccf30","#f5e924","#f9fb14"]}}}},{"data":{"values":[{"t":64.5,"f":-241.1},{"t":894.4,"f":249}]},"mark":{"type":"point","opacity":0},"encoding":{"x":{"field":"t","type":"quantitative","axis":{"zindex":1,"orient":"top","title":null,"labels":false,"values":[100,200,300,400,500,600,700,800,900],"tickSize":-14}},"y":{"field":"f","type":"quantitative","axis":{"zindex":1,"orient":"right","title":null,"labels":false,"values":[-200,-150,-100,-50,0,50,100,150,200,250],"tickSize":-14}}}}],"resolve":{"axis":{"x":"independent","y":"independent"}}},{"width":84,"height":1424,"data":{"values":[{"v":-156},{"v":-155},{"v":-154},{"v":-153},{"v":-152},{"v":-151},{"v":-150},{"v":-149},{"v":-148},{"v":-147},{"v":-146},{"v":-145},{"v":-144},{"v":-143},{"v":-142},{"v":-141},{"v":-140},{"v":-139},{"v":-138},{"v":-137},{"v":-136},{"v":-135},{"v":-134},{"v":-133},{"v":-132},{"v":-131},{"v":-130},{"v":-129},{"v":-128},{"v":-127},{"v":-126},{"v":-125},{"v":-124},{"v":-123},{"v":-122},{"v":-121},{"v":-120},{"v":-119},{"v":-118},{"v":-117},{"v":-116},{"v":-115},{"v":-114},{"v":-113},{"v":-112},{"v":-111},{"v":-110},{"v":-109},{"v":-108},{"v":-107},{"v":-106},{"v":-105},{"v":-104},{"v":-103},{"v":-102},{"v":-101},{"v":-100},{"v":-99},{"v":-98},{"v":-97},{"v":-96},{"v":-95},{"v":-94},{"v":-93},{"v":-92},{"v":-91},{"v":-90},{"v":-89},{"v":-88},{"v":-87},{"v":-86},{"v":-85},{"v":-84},{"v":-83},{"v":-82},{"v":-81},{"v":-80},{"v":-79},{"v":-78},{"v":-77},{"v":-76},{"v":-75},{"v":-74},{"v":-73},{"v":-72},{"v":-71},{"v":-70},{"v":-69},{"v":-68},{"v":-67},{"v":-66},{"v":-65},{"v":-64},{"v":-63},{"v":-62},{"v":-61},{"v":-60},{"v":-59},{"v":-58},{"v":-57},{"v":-56},{"v":-55},{"v":-54},{"v":-53},{"v":-52},{"v":-51},{"v":-50},{"v":-49},{"v":-48},{"v":-47},{"v":-46},{"v":-45},{"v":-44},{"v":-43},{"v":-42}]},"mark":{"type":"rect","height":13,"clip":true},"encoding":{"y":{"field":"v","type":"quantitative","scale":{"domain":[-156.3,-41.7],"nice":false,"zero":false},"axis":{"zindex":1,"orient":"right","title":"Сила/частота (дБ/Гц)","titleAngle":270,"titleBaseline":"bottom","titleX":246,"titleY":755,"values":[-150,-140,-130,-120,-110,-100,-90,-80,-70,-60,-50],"labelFontSize":48,"tickSize":-13,"labelPadding":37,"labelOffset":6}},"color":{"field":"v","type":"quantitative","legend":null,"scale":{"interpolate":"rgb","domain":[-156.3,-149.02,-141.75,-134.47,-127.2,-119.92,-112.64,-105.37,-98.09,-90.81,-83.54,-76.26,-68.99,-61.71,-54.43,-47.16,-41.7],"range":["#3e26a8","#4537d5","#474df0","#4563fd","#327bfc","#2b91ef","#20a5e3","#08b5d0","#19bfb5","#37c897","#63cd6f","#9dc943","#d1bf27","#f8ba3d","#fccf30","#f5e924","#f9fb14"]}}}}]}
